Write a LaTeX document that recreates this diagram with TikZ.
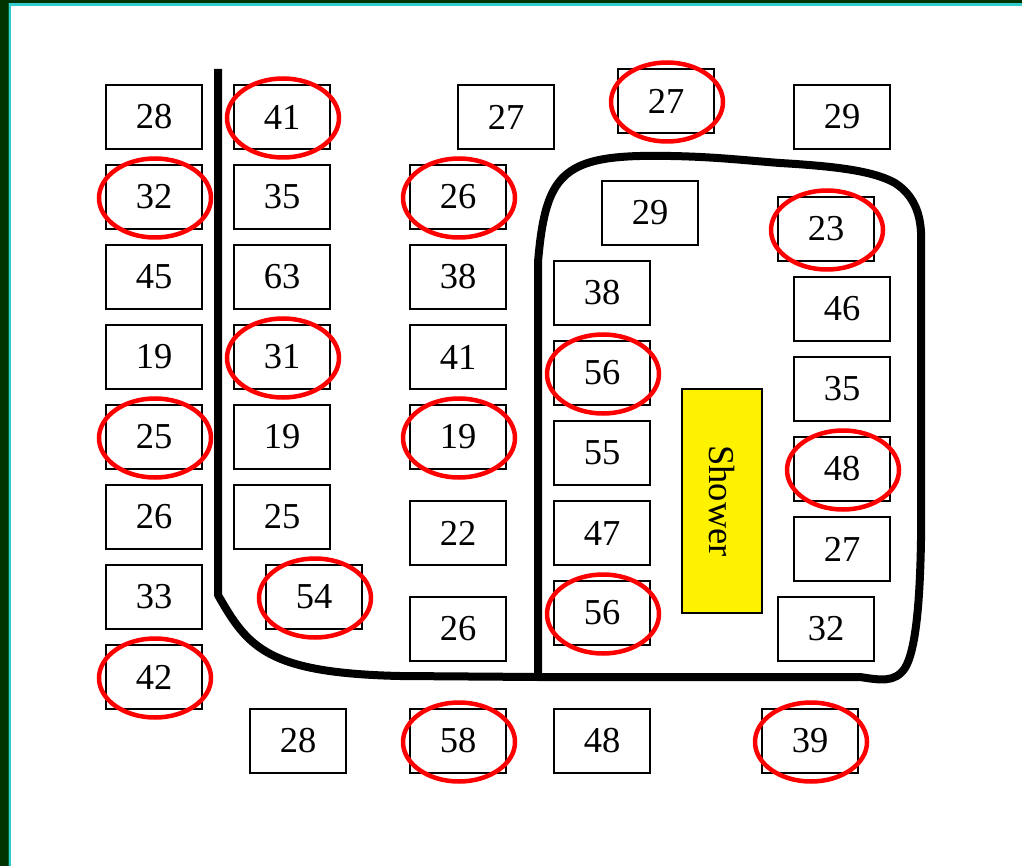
\documentclass[tikz,border=0pt]{standalone}
\usepackage{fontspec}
\setmainfont{Liberation Serif}
\definecolor{framedark}{HTML}{003300}
\definecolor{framecyan}{HTML}{33CCCC}
\definecolor{framemid}{HTML}{006633}
\begin{document}
\begin{tikzpicture}[x=1pt,y=-1pt,
  seat/.style={draw, line width=1.5pt, minimum width=96pt, minimum height=64pt, inner sep=0pt, font=\fontsize{36.5}{40}\selectfont},
  circled/.style={draw=red, line width=4.5pt},
  path/.style={line width=8pt, line join=round},
  showerbox/.style={draw, fill=yellow, line width=1.5pt, minimum width=224pt, minimum height=80pt, inner sep=0pt, rotate=-90, font=\fontsize{36.5}{40}\selectfont}]
\useasboundingbox (0,0) rectangle (1022,866);
\fill[white] (0,0) rectangle (1022,866);
% frame
\fill[framedark] (0,0) rectangle (1022,3);
\fill[framecyan] (9,3) rectangle (1022,6);
\fill[framedark] (0,0) rectangle (8,866);
\fill[framemid] (8,3) rectangle (9,866);
\fill[framecyan] (9,3) rectangle (11,866);

% column 1
\node[seat] (a1) at (154,117) {28};
\node[seat] (a2) at (154,197) {32};
\node[seat] (a3) at (154,277) {45};
\node[seat] (a4) at (154,357) {19};
\node[seat] (a5) at (154,437) {25};
\node[seat] (a6) at (154,517) {26};
\node[seat] (a7) at (154,597) {33};
\node[seat] (a8) at (154,677) {42};
% column 2
\node[seat] (b1) at (282,117) {41};
\node[seat] (b2) at (282,197) {35};
\node[seat] (b3) at (282,277) {63};
\node[seat] (b4) at (282,357) {31};
\node[seat] (b5) at (282,437) {19};
\node[seat] (b6) at (282,517) {25};
\node[seat] (b7) at (314,597) {54};
\node[seat] (b8) at (298,741) {28};
% column 3
\node[seat] (c0) at (506,117) {27};
\node[seat] (c1) at (458,197) {26};
\node[seat] (c2) at (458,277) {38};
\node[seat] (c3) at (458,357) {41};
\node[seat] (c4) at (458,437) {19};
\node[seat] (c5) at (458,533) {22};
\node[seat] (c6) at (458,629) {26};
\node[seat] (c7) at (458,741) {58};
% column 4
\node[seat] (d0) at (666,101) {27};
\node[seat] (d1) at (650,213) {29};
\node[seat] (d2) at (602,293) {38};
\node[seat] (d3) at (602,373) {56};
\node[seat] (d4) at (602,453) {55};
\node[seat] (d5) at (602,533) {47};
\node[seat] (d6) at (602,613) {56};
\node[seat] (d7) at (602,741) {48};
% right column
\node[seat] (e1) at (842,117) {29};
\node[seat] (e2) at (826,229) {23};
\node[seat] (e3) at (842,309) {46};
\node[seat] (e4) at (842,389) {35};
\node[seat] (e5) at (842,469) {48};
\node[seat] (e6) at (842,549) {27};
\node[seat] (e7) at (826,629) {32};
\node[seat] (e8) at (810,741) {39};
% shower
\node[showerbox] (shower) at (722,501) {Shower};

% thick paths
\draw[path] (218,69) -- (218,595) .. controls (248,648) and (268,673) .. (400,676) -- (538,677);
\draw[path] (538,677) -- (538,262) .. controls (545,180) and (560,158) .. (640,156)
  .. controls (700,155) and (740,160) .. (780,163)
  .. controls (830,166) and (872,170) .. (895,183)
  .. controls (915,196) and (920,215) .. (921,232)
  -- (921,540) .. controls (920,600) and (916,650) .. (905,668)
  .. controls (895,683) and (880,680) .. (860,677) -- (538,677);

% red ellipses
\foreach \n in {b1,a2,d0,c1,e2,b4,d3,a5,c4,e5,b7,d6,a8,c7,e8}
  \draw[circled] ([shift={(1,1)}]\n.center) ellipse [x radius=56pt, y radius=39.5pt];
\end{tikzpicture}
\end{document}
